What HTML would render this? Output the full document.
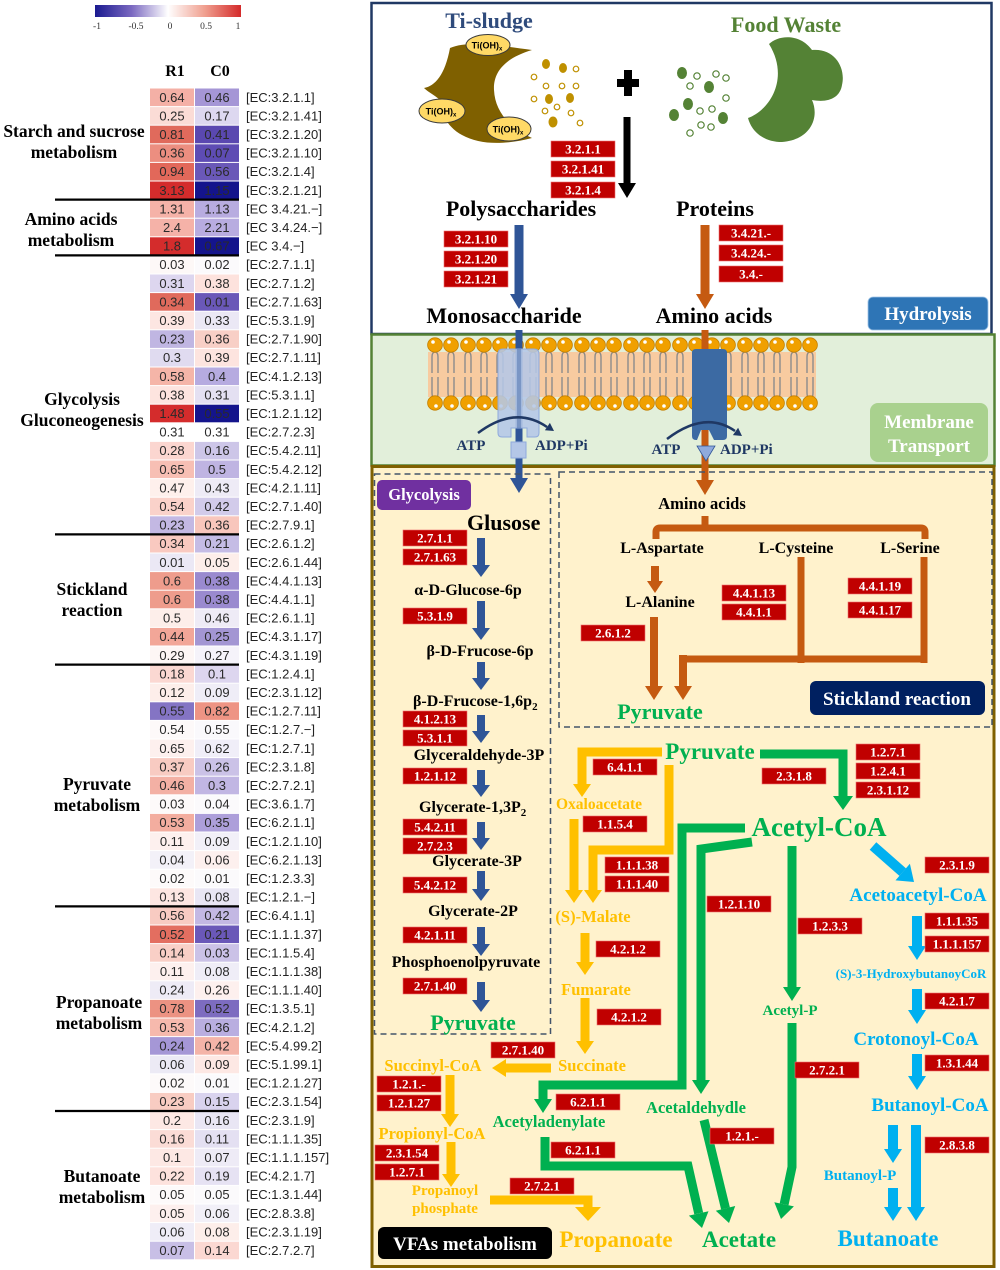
<!DOCTYPE html>
<html><head><meta charset="utf-8">
<style>
html,body{margin:0;padding:0;background:#fff;}
svg{display:block;}
.n{font-family:"Liberation Sans",sans-serif;font-size:13px;fill:#2a2a2a;text-anchor:middle;}
.l{font-family:"Liberation Sans",sans-serif;font-size:13px;fill:#222;}
.g{font-family:"Liberation Serif",serif;font-weight:bold;font-size:17.5px;fill:#000;text-anchor:middle;}
.s{font-family:"Liberation Serif",serif;font-weight:bold;}
.ec{fill:#c00000;stroke:#f07070;stroke-width:.6;}
.et{font-family:"Liberation Serif",serif;font-weight:bold;font-size:13px;fill:#fff;text-anchor:middle;}
.m{text-anchor:middle;}
</style></head><body>
<svg width="1000" height="1270" viewBox="0 0 1000 1270" xmlns="http://www.w3.org/2000/svg">
<defs>
<linearGradient id="cb" x1="0" x2="1" y1="0" y2="0">
<stop offset="0" stop-color="#1a1a90"/><stop offset="0.25" stop-color="#7a68c0"/><stop offset="0.5" stop-color="#ffffff"/><stop offset="0.75" stop-color="#f0a090"/><stop offset="1" stop-color="#d42a2a"/>
</linearGradient>
<g id="lp">
<path d="M-3,373V357Q-3,352 0,352Q3,352 3,357V373M-3,377V393Q-3,398 0,398Q3,398 3,393V377" stroke="#8c8c8c" stroke-width="1.4" fill="none"/>
<ellipse cx="0" cy="345" rx="7.4" ry="7.2" fill="#f0a000" stroke="#c47f00" stroke-width=".8"/>
<circle cx="-2" cy="342" r="1.8" fill="#fff"/>
<ellipse cx="0" cy="403" rx="7.4" ry="7.2" fill="#f0a000" stroke="#c47f00" stroke-width=".8"/>
<circle cx="1" cy="406" r="1.8" fill="#fff"/>
</g>
</defs>

<!-- ===== Colorbar ===== -->
<rect x="95" y="5" width="146" height="12" fill="url(#cb)"/>
<g font-family="Liberation Serif,serif" font-size="9.5" fill="#333" text-anchor="middle">
<text x="97" y="29">-1</text><text x="136" y="29">-0.5</text><text x="170" y="29">0</text><text x="206" y="29">0.5</text><text x="238" y="29">1</text>
</g>
<text class="s" x="175" y="76" font-size="16" text-anchor="middle">R1</text>
<text class="s" x="220" y="76" font-size="16" text-anchor="middle">C0</text>

<!-- ===== Heatmap cells ===== -->
<g>
<rect x="150" y="88.5" width="44" height="17.6" fill="#f4b0a6"/><rect x="195" y="88.5" width="44" height="17.6" fill="#a596d6"/>
<rect x="150" y="107.1" width="44" height="17.6" fill="#fbdcd6"/><rect x="195" y="107.1" width="44" height="17.6" fill="#ddd8f0"/>
<rect x="150" y="125.7" width="44" height="17.6" fill="#e06a5c"/><rect x="195" y="125.7" width="44" height="17.6" fill="#5a48b0"/>
<rect x="150" y="144.3" width="44" height="17.6" fill="#ec8e80"/><rect x="195" y="144.3" width="44" height="17.6" fill="#5e4cb4"/>
<rect x="150" y="162.9" width="44" height="17.6" fill="#e2685a"/><rect x="195" y="162.9" width="44" height="17.6" fill="#6a58b8"/>
<rect x="150" y="181.5" width="44" height="17.6" fill="#d42c2c"/><rect x="195" y="181.5" width="44" height="17.6" fill="#14148c"/>
<rect x="150" y="200.1" width="44" height="17.6" fill="#f5b2a8"/><rect x="195" y="200.1" width="44" height="17.6" fill="#b8ace0"/>
<rect x="150" y="218.7" width="44" height="17.6" fill="#f5b2a8"/><rect x="195" y="218.7" width="44" height="17.6" fill="#b8ace0"/>
<rect x="150" y="237.3" width="44" height="17.6" fill="#d42c2c"/><rect x="195" y="237.3" width="44" height="17.6" fill="#14148c"/>
<rect x="150" y="255.9" width="44" height="17.6" fill="#fdf8f7"/><rect x="195" y="255.9" width="44" height="17.6" fill="#fbfafc"/>
<rect x="150" y="274.5" width="44" height="17.6" fill="#ddd6ef"/><rect x="195" y="274.5" width="44" height="17.6" fill="#fde2dd"/>
<rect x="150" y="293.1" width="44" height="17.6" fill="#e06a5c"/><rect x="195" y="293.1" width="44" height="17.6" fill="#6a58b8"/>
<rect x="150" y="311.7" width="44" height="17.6" fill="#fde6e2"/><rect x="195" y="311.7" width="44" height="17.6" fill="#ebe8f5"/>
<rect x="150" y="330.3" width="44" height="17.6" fill="#c0b6e2"/><rect x="195" y="330.3" width="44" height="17.6" fill="#f8cfc6"/>
<rect x="150" y="348.9" width="44" height="17.6" fill="#e0dbf0"/><rect x="195" y="348.9" width="44" height="17.6" fill="#fde4df"/>
<rect x="150" y="367.5" width="44" height="17.6" fill="#f5b5a8"/><rect x="195" y="367.5" width="44" height="17.6" fill="#b6abe0"/>
<rect x="150" y="386.1" width="44" height="17.6" fill="#fde4df"/><rect x="195" y="386.1" width="44" height="17.6" fill="#e4e0f2"/>
<rect x="150" y="404.7" width="44" height="17.6" fill="#d42c2c"/><rect x="195" y="404.7" width="44" height="17.6" fill="#14148c"/>
<rect x="150" y="423.3" width="44" height="17.6" fill="#ffffff"/><rect x="195" y="423.3" width="44" height="17.6" fill="#ffffff"/>
<rect x="150" y="441.9" width="44" height="17.6" fill="#fbd6d0"/><rect x="195" y="441.9" width="44" height="17.6" fill="#cdc6e8"/>
<rect x="150" y="460.5" width="44" height="17.6" fill="#f7bfb4"/><rect x="195" y="460.5" width="44" height="17.6" fill="#bfb4e2"/>
<rect x="150" y="479.1" width="44" height="17.6" fill="#fef0ec"/><rect x="195" y="479.1" width="44" height="17.6" fill="#eeebf6"/>
<rect x="150" y="497.7" width="44" height="17.6" fill="#fad2ca"/><rect x="195" y="497.7" width="44" height="17.6" fill="#d2cbea"/>
<rect x="150" y="516.3" width="44" height="17.6" fill="#c3b8e3"/><rect x="195" y="516.3" width="44" height="17.6" fill="#f8c6bc"/>
<rect x="150" y="534.9" width="44" height="17.6" fill="#f9c9c0"/><rect x="195" y="534.9" width="44" height="17.6" fill="#c5bce5"/>
<rect x="150" y="553.5" width="44" height="17.6" fill="#ebe8f5"/><rect x="195" y="553.5" width="44" height="17.6" fill="#fdeeea"/>
<rect x="150" y="572.1" width="44" height="17.6" fill="#ee9c8c"/><rect x="195" y="572.1" width="44" height="17.6" fill="#9a8acf"/>
<rect x="150" y="590.7" width="44" height="17.6" fill="#ee9c8c"/><rect x="195" y="590.7" width="44" height="17.6" fill="#9a8acf"/>
<rect x="150" y="609.3" width="44" height="17.6" fill="#fdeeea"/><rect x="195" y="609.3" width="44" height="17.6" fill="#eeebf6"/>
<rect x="150" y="627.9" width="44" height="17.6" fill="#f2a698"/><rect x="195" y="627.9" width="44" height="17.6" fill="#a396d3"/>
<rect x="150" y="646.5" width="44" height="17.6" fill="#fdf6f5"/><rect x="195" y="646.5" width="44" height="17.6" fill="#f5f3fa"/>
<rect x="150" y="665.1" width="44" height="17.6" fill="#fbd8d2"/><rect x="195" y="665.1" width="44" height="17.6" fill="#ddd6ef"/>
<rect x="150" y="683.7" width="44" height="17.6" fill="#fdeeea"/><rect x="195" y="683.7" width="44" height="17.6" fill="#efedf7"/>
<rect x="150" y="702.3" width="44" height="17.6" fill="#8474c4"/><rect x="195" y="702.3" width="44" height="17.6" fill="#ee9484"/>
<rect x="150" y="720.9" width="44" height="17.6" fill="#fdf9f9"/><rect x="195" y="720.9" width="44" height="17.6" fill="#faf9fc"/>
<rect x="150" y="739.5" width="44" height="17.6" fill="#fdf0ee"/><rect x="195" y="739.5" width="44" height="17.6" fill="#f0eef8"/>
<rect x="150" y="758.1" width="44" height="17.6" fill="#f8cbc2"/><rect x="195" y="758.1" width="44" height="17.6" fill="#cbc2e7"/>
<rect x="150" y="776.7" width="44" height="17.6" fill="#f3b0a4"/><rect x="195" y="776.7" width="44" height="17.6" fill="#c1b6e3"/>
<rect x="150" y="795.3" width="44" height="17.6" fill="#fdfafa"/><rect x="195" y="795.3" width="44" height="17.6" fill="#fbfafc"/>
<rect x="150" y="813.9" width="44" height="17.6" fill="#f3ad9f"/><rect x="195" y="813.9" width="44" height="17.6" fill="#ad9fda"/>
<rect x="150" y="832.5" width="44" height="17.6" fill="#fdf0ee"/><rect x="195" y="832.5" width="44" height="17.6" fill="#f2f0f8"/>
<rect x="150" y="851.1" width="44" height="17.6" fill="#f3f1f8"/><rect x="195" y="851.1" width="44" height="17.6" fill="#fdf0ee"/>
<rect x="150" y="869.7" width="44" height="17.6" fill="#fdfafa"/><rect x="195" y="869.7" width="44" height="17.6" fill="#fbfafc"/>
<rect x="150" y="888.3" width="44" height="17.6" fill="#fde6e2"/><rect x="195" y="888.3" width="44" height="17.6" fill="#e9e6f4"/>
<rect x="150" y="906.9" width="44" height="17.6" fill="#f8cbc2"/><rect x="195" y="906.9" width="44" height="17.6" fill="#c3b8e3"/>
<rect x="150" y="925.5" width="44" height="17.6" fill="#e36e60"/><rect x="195" y="925.5" width="44" height="17.6" fill="#6a58b8"/>
<rect x="150" y="944.1" width="44" height="17.6" fill="#f9cfc6"/><rect x="195" y="944.1" width="44" height="17.6" fill="#cbc2e7"/>
<rect x="150" y="962.7" width="44" height="17.6" fill="#fdf0ee"/><rect x="195" y="962.7" width="44" height="17.6" fill="#efedf7"/>
<rect x="150" y="981.3" width="44" height="17.6" fill="#eeebf6"/><rect x="195" y="981.3" width="44" height="17.6" fill="#fdf0ee"/>
<rect x="150" y="999.9" width="44" height="17.6" fill="#ec9282"/><rect x="195" y="999.9" width="44" height="17.6" fill="#7d6cc0"/>
<rect x="150" y="1018.5" width="44" height="17.6" fill="#f6b9ad"/><rect x="195" y="1018.5" width="44" height="17.6" fill="#b9aee0"/>
<rect x="150" y="1037.1" width="44" height="17.6" fill="#a597d6"/><rect x="195" y="1037.1" width="44" height="17.6" fill="#f4b4a8"/>
<rect x="150" y="1055.7" width="44" height="17.6" fill="#eceaf5"/><rect x="195" y="1055.7" width="44" height="17.6" fill="#fde8e4"/>
<rect x="150" y="1074.3" width="44" height="17.6" fill="#fdfafa"/><rect x="195" y="1074.3" width="44" height="17.6" fill="#fbfafc"/>
<rect x="150" y="1092.9" width="44" height="17.6" fill="#f8ccc2"/><rect x="195" y="1092.9" width="44" height="17.6" fill="#d9d3ee"/>
<rect x="150" y="1111.5" width="44" height="17.6" fill="#fde8e4"/><rect x="195" y="1111.5" width="44" height="17.6" fill="#e9e6f4"/>
<rect x="150" y="1130.1" width="44" height="17.6" fill="#fbdcd6"/><rect x="195" y="1130.1" width="44" height="17.6" fill="#e4e0f2"/>
<rect x="150" y="1148.7" width="44" height="17.6" fill="#fde8e4"/><rect x="195" y="1148.7" width="44" height="17.6" fill="#eeebf6"/>
<rect x="150" y="1167.3" width="44" height="17.6" fill="#fde2dd"/><rect x="195" y="1167.3" width="44" height="17.6" fill="#e6e2f3"/>
<rect x="150" y="1185.9" width="44" height="17.6" fill="#fdfafa"/><rect x="195" y="1185.9" width="44" height="17.6" fill="#fbfafc"/>
<rect x="150" y="1204.5" width="44" height="17.6" fill="#fdf0ee"/><rect x="195" y="1204.5" width="44" height="17.6" fill="#f2f0f8"/>
<rect x="150" y="1223.1" width="44" height="17.6" fill="#efedf7"/><rect x="195" y="1223.1" width="44" height="17.6" fill="#fdeeea"/>
<rect x="150" y="1241.7" width="44" height="17.6" fill="#c8bfe6"/><rect x="195" y="1241.7" width="44" height="17.6" fill="#fbd8d2"/>
</g>

<!-- ===== Heatmap numbers ===== -->
<g class="n">
<text x="172" y="101.8">0.64</text><text x="217" y="101.8">0.46</text>
<text x="172" y="120.4">0.25</text><text x="217" y="120.4">0.17</text>
<text x="172" y="139">0.81</text><text x="217" y="139">0.41</text>
<text x="172" y="157.6">0.36</text><text x="217" y="157.6">0.07</text>
<text x="172" y="176.2">0.94</text><text x="217" y="176.2">0.56</text>
<text x="172" y="194.8">3.13</text><text x="217" y="194.8">1.15</text>
<text x="172" y="213.4">1.31</text><text x="217" y="213.4">1.13</text>
<text x="172" y="232">2.4</text><text x="217" y="232">2.21</text>
<text x="172" y="250.6">1.8</text><text x="217" y="250.6">0.67</text>
<text x="172" y="269.2">0.03</text><text x="217" y="269.2">0.02</text>
<text x="172" y="287.8">0.31</text><text x="217" y="287.8">0.38</text>
<text x="172" y="306.4">0.34</text><text x="217" y="306.4">0.01</text>
<text x="172" y="325">0.39</text><text x="217" y="325">0.33</text>
<text x="172" y="343.6">0.23</text><text x="217" y="343.6">0.36</text>
<text x="172" y="362.2">0.3</text><text x="217" y="362.2">0.39</text>
<text x="172" y="380.8">0.58</text><text x="217" y="380.8">0.4</text>
<text x="172" y="399.4">0.38</text><text x="217" y="399.4">0.31</text>
<text x="172" y="418">1.48</text><text x="217" y="418">0.55</text>
<text x="172" y="436.6">0.31</text><text x="217" y="436.6">0.31</text>
<text x="172" y="455.2">0.28</text><text x="217" y="455.2">0.16</text>
<text x="172" y="473.8">0.65</text><text x="217" y="473.8">0.5</text>
<text x="172" y="492.4">0.47</text><text x="217" y="492.4">0.43</text>
<text x="172" y="511">0.54</text><text x="217" y="511">0.42</text>
<text x="172" y="529.6">0.23</text><text x="217" y="529.6">0.36</text>
<text x="172" y="548.2">0.34</text><text x="217" y="548.2">0.21</text>
<text x="172" y="566.8">0.01</text><text x="217" y="566.8">0.05</text>
<text x="172" y="585.4">0.6</text><text x="217" y="585.4">0.38</text>
<text x="172" y="604">0.6</text><text x="217" y="604">0.38</text>
<text x="172" y="622.6">0.5</text><text x="217" y="622.6">0.46</text>
<text x="172" y="641.2">0.44</text><text x="217" y="641.2">0.25</text>
<text x="172" y="659.8">0.29</text><text x="217" y="659.8">0.27</text>
<text x="172" y="678.4">0.18</text><text x="217" y="678.4">0.1</text>
<text x="172" y="697">0.12</text><text x="217" y="697">0.09</text>
<text x="172" y="715.6">0.55</text><text x="217" y="715.6">0.82</text>
<text x="172" y="734.2">0.54</text><text x="217" y="734.2">0.55</text>
<text x="172" y="752.8">0.65</text><text x="217" y="752.8">0.62</text>
<text x="172" y="771.4">0.37</text><text x="217" y="771.4">0.26</text>
<text x="172" y="790">0.46</text><text x="217" y="790">0.3</text>
<text x="172" y="808.6">0.03</text><text x="217" y="808.6">0.04</text>
<text x="172" y="827.2">0.53</text><text x="217" y="827.2">0.35</text>
<text x="172" y="845.8">0.11</text><text x="217" y="845.8">0.09</text>
<text x="172" y="864.4">0.04</text><text x="217" y="864.4">0.06</text>
<text x="172" y="883">0.02</text><text x="217" y="883">0.01</text>
<text x="172" y="901.6">0.13</text><text x="217" y="901.6">0.08</text>
<text x="172" y="920.2">0.56</text><text x="217" y="920.2">0.42</text>
<text x="172" y="938.8">0.52</text><text x="217" y="938.8">0.21</text>
<text x="172" y="957.4">0.14</text><text x="217" y="957.4">0.03</text>
<text x="172" y="976">0.11</text><text x="217" y="976">0.08</text>
<text x="172" y="994.6">0.24</text><text x="217" y="994.6">0.26</text>
<text x="172" y="1013.2">0.78</text><text x="217" y="1013.2">0.52</text>
<text x="172" y="1031.8">0.53</text><text x="217" y="1031.8">0.36</text>
<text x="172" y="1050.4">0.24</text><text x="217" y="1050.4">0.42</text>
<text x="172" y="1069">0.06</text><text x="217" y="1069">0.09</text>
<text x="172" y="1087.6">0.02</text><text x="217" y="1087.6">0.01</text>
<text x="172" y="1106.2">0.23</text><text x="217" y="1106.2">0.15</text>
<text x="172" y="1124.8">0.2</text><text x="217" y="1124.8">0.16</text>
<text x="172" y="1143.4">0.16</text><text x="217" y="1143.4">0.11</text>
<text x="172" y="1162">0.1</text><text x="217" y="1162">0.07</text>
<text x="172" y="1180.6">0.22</text><text x="217" y="1180.6">0.19</text>
<text x="172" y="1199.2">0.05</text><text x="217" y="1199.2">0.05</text>
<text x="172" y="1217.8">0.05</text><text x="217" y="1217.8">0.06</text>
<text x="172" y="1236.4">0.06</text><text x="217" y="1236.4">0.08</text>
<text x="172" y="1255">0.07</text><text x="217" y="1255">0.14</text>
</g>

<!-- ===== Heatmap row labels ===== -->
<g class="l">
<text x="246" y="101.8">[EC:3.2.1.1]</text>
<text x="246" y="120.4">[EC:3.2.1.41]</text>
<text x="246" y="139">[EC:3.2.1.20]</text>
<text x="246" y="157.6">[EC:3.2.1.10]</text>
<text x="246" y="176.2">[EC:3.2.1.4]</text>
<text x="246" y="194.8">[EC:3.2.1.21]</text>
<text x="246" y="213.4">[EC 3.4.21.−]</text>
<text x="246" y="232">[EC 3.4.24.−]</text>
<text x="246" y="250.6">[EC 3.4.−]</text>
<text x="246" y="269.2">[EC:2.7.1.1]</text>
<text x="246" y="287.8">[EC:2.7.1.2]</text>
<text x="246" y="306.4">[EC:2.7.1.63]</text>
<text x="246" y="325">[EC:5.3.1.9]</text>
<text x="246" y="343.6">[EC:2.7.1.90]</text>
<text x="246" y="362.2">[EC:2.7.1.11]</text>
<text x="246" y="380.8">[EC:4.1.2.13]</text>
<text x="246" y="399.4">[EC:5.3.1.1]</text>
<text x="246" y="418">[EC:1.2.1.12]</text>
<text x="246" y="436.6">[EC:2.7.2.3]</text>
<text x="246" y="455.2">[EC:5.4.2.11]</text>
<text x="246" y="473.8">[EC:5.4.2.12]</text>
<text x="246" y="492.4">[EC:4.2.1.11]</text>
<text x="246" y="511">[EC:2.7.1.40]</text>
<text x="246" y="529.6">[EC:2.7.9.1]</text>
<text x="246" y="548.2">[EC:2.6.1.2]</text>
<text x="246" y="566.8">[EC:2.6.1.44]</text>
<text x="246" y="585.4">[EC:4.4.1.13]</text>
<text x="246" y="604">[EC:4.4.1.1]</text>
<text x="246" y="622.6">[EC:2.6.1.1]</text>
<text x="246" y="641.2">[EC:4.3.1.17]</text>
<text x="246" y="659.8">[EC:4.3.1.19]</text>
<text x="246" y="678.4">[EC:1.2.4.1]</text>
<text x="246" y="697">[EC:2.3.1.12]</text>
<text x="246" y="715.6">[EC:1.2.7.11]</text>
<text x="246" y="734.2">[EC:1.2.7.−]</text>
<text x="246" y="752.8">[EC:1.2.7.1]</text>
<text x="246" y="771.4">[EC:2.3.1.8]</text>
<text x="246" y="790">[EC:2.7.2.1]</text>
<text x="246" y="808.6">[EC:3.6.1.7]</text>
<text x="246" y="827.2">[EC:6.2.1.1]</text>
<text x="246" y="845.8">[EC:1.2.1.10]</text>
<text x="246" y="864.4">[EC:6.2.1.13]</text>
<text x="246" y="883">[EC:1.2.3.3]</text>
<text x="246" y="901.6">[EC:1.2.1.−]</text>
<text x="246" y="920.2">[EC:6.4.1.1]</text>
<text x="246" y="938.8">[EC:1.1.1.37]</text>
<text x="246" y="957.4">[EC:1.1.5.4]</text>
<text x="246" y="976">[EC:1.1.1.38]</text>
<text x="246" y="994.6">[EC:1.1.1.40]</text>
<text x="246" y="1013.2">[EC:1.3.5.1]</text>
<text x="246" y="1031.8">[EC:4.2.1.2]</text>
<text x="246" y="1050.4">[EC:5.4.99.2]</text>
<text x="246" y="1069">[EC:5.1.99.1]</text>
<text x="246" y="1087.6">[EC:1.2.1.27]</text>
<text x="246" y="1106.2">[EC:2.3.1.54]</text>
<text x="246" y="1124.8">[EC:2.3.1.9]</text>
<text x="246" y="1143.4">[EC:1.1.1.35]</text>
<text x="246" y="1162">[EC:1.1.1.157]</text>
<text x="246" y="1180.6">[EC:4.2.1.7]</text>
<text x="246" y="1199.2">[EC:1.3.1.44]</text>
<text x="246" y="1217.8">[EC:2.8.3.8]</text>
<text x="246" y="1236.4">[EC:2.3.1.19]</text>
<text x="246" y="1255">[EC:2.7.2.7]</text>
</g>

<!-- separators -->
<g stroke="#000" stroke-width="2.2">
<line x1="55" y1="199.6" x2="239" y2="199.6"/>
<line x1="55" y1="255.4" x2="239" y2="255.4"/>
<line x1="55" y1="534.4" x2="239" y2="534.4"/>
<line x1="55" y1="664.6" x2="239" y2="664.6"/>
<line x1="55" y1="906.4" x2="239" y2="906.4"/>
<line x1="55" y1="1111" x2="239" y2="1111"/>
</g>

<!-- group labels -->
<g class="g">
<text x="74" y="137">Starch and sucrose</text><text x="74" y="158">metabolism</text>
<text x="71" y="225">Amino acids</text><text x="71" y="246">metabolism</text>
<text x="82" y="405">Glycolysis</text><text x="82" y="426">Gluconeogenesis</text>
<text x="92" y="595">Stickland</text><text x="92" y="616">reaction</text>
<text x="97" y="790">Pyruvate</text><text x="97" y="811">metabolism</text>
<text x="99" y="1008">Propanoate</text><text x="99" y="1029">metabolism</text>
<text x="102" y="1182">Butanoate</text><text x="102" y="1203">metabolism</text>
</g>

<!-- ===== Right panels ===== -->
<rect x="371.5" y="3" width="620" height="331" fill="#fff" stroke="#203864" stroke-width="2.5"/>
<rect x="371.5" y="334.5" width="623" height="131" fill="#e2efda" stroke="#548235" stroke-width="2.5"/>
<rect x="372" y="466.5" width="622" height="800" fill="#fff2cc" stroke="#7f6000" stroke-width="3"/>

<!-- Top panel -->
<text class="s m" x="489" y="28" font-size="22" fill="#2f4b7c">Ti-sludge</text>
<text class="s m" x="786" y="32" font-size="22" fill="#548235">Food Waste</text>
<path d="M450,48 C470,40 500,46 532,50 C505,58 493,72 494,90 C495,112 510,128 532,138 C505,145 480,145 462,135 C448,128 438,110 440,100 C433,94 428,92 424,88 C435,86 445,75 450,48 Z" fill="#7f6000"/>
<g stroke="#3a3a3a" stroke-width="1" fill="#ffd966">
<ellipse cx="488" cy="45" rx="22" ry="10.5"/>
<ellipse cx="442" cy="111" rx="23" ry="12"/>
<ellipse cx="509" cy="129" rx="22" ry="12"/>
</g>
<g font-family="Liberation Sans,sans-serif" font-weight="bold" font-size="9" fill="#000" text-anchor="middle">
<text x="487" y="48.5">Ti(OH)<tspan font-size="6" dy="2">x</tspan></text>
<text x="441" y="114.5">Ti(OH)<tspan font-size="6" dy="2">x</tspan></text>
<text x="508" y="132.5">Ti(OH)<tspan font-size="6" dy="2">x</tspan></text>
</g>
<g fill="#bf9000">
<ellipse cx="546" cy="64" rx="4" ry="5"/><ellipse cx="563" cy="68" rx="4" ry="5"/><ellipse cx="549" cy="99" rx="4" ry="5"/><ellipse cx="570" cy="98" rx="4" ry="5"/><ellipse cx="553" cy="122" rx="4.5" ry="5.5"/>
</g>
<g fill="none" stroke="#bf9000" stroke-width="1.2">
<circle cx="576" cy="69" r="2.8"/><circle cx="534" cy="77" r="2.8"/><circle cx="546" cy="86" r="2.8"/><circle cx="562" cy="86" r="2.8"/><circle cx="576" cy="86" r="2.8"/><circle cx="534" cy="99" r="2.8"/><circle cx="545" cy="111" r="2.8"/><circle cx="557" cy="107" r="2.8"/><circle cx="571" cy="113" r="2.8"/><circle cx="580" cy="123" r="2.8"/>
</g>
<rect x="624" y="70" width="8" height="26" fill="#000"/><rect x="617" y="79" width="22" height="8" fill="#000"/>
<path d="M623.5,117V183H618L627,198L636,183H630.5V117Z" fill="#000"/>
<g fill="#548235">
<ellipse cx="682" cy="73" rx="5" ry="6"/><ellipse cx="709" cy="87" rx="5" ry="6"/><ellipse cx="688" cy="104" rx="5" ry="6"/><ellipse cx="674" cy="115" rx="5" ry="6"/><ellipse cx="723" cy="118" rx="5" ry="6"/>
</g>
<g fill="none" stroke="#548235" stroke-width="1.2">
<circle cx="697" cy="76" r="3.2"/><circle cx="716" cy="74" r="3.2"/><circle cx="726" cy="78" r="3.2"/><circle cx="690" cy="86" r="3.2"/><circle cx="726" cy="98" r="3.2"/><circle cx="700" cy="111" r="3.2"/><circle cx="712" cy="109" r="3.2"/><circle cx="701" cy="125" r="3.2"/><circle cx="711" cy="127" r="3.2"/><circle cx="690" cy="133" r="3.2"/>
</g>
<path d="M769,44 C778,35 800,33 812,50 C835,48 846,68 842,85 C840,98 828,103 812,100 C820,118 810,140 782,142 C765,142 752,133 748,118 C770,110 790,78 769,44 Z" fill="#548235"/>

<rect class="ec" x="551" y="141" width="64" height="16"/><text class="et" x="583" y="153.5">3.2.1.1</text>
<rect class="ec" x="551" y="161" width="64" height="16"/><text class="et" x="583" y="173.5">3.2.1.41</text>
<rect class="ec" x="551" y="182" width="64" height="16"/><text class="et" x="583" y="194.5">3.2.1.4</text>

<text class="s m" x="521" y="216" font-size="22">Polysaccharides</text>
<text class="s m" x="715" y="216" font-size="22">Proteins</text>

<path d="M514.5,225V294H510L519,309L528,294H523.5V225Z" fill="#2f5597"/>
<rect class="ec" x="444" y="231" width="64" height="16"/><text class="et" x="476" y="243.5">3.2.1.10</text>
<rect class="ec" x="444" y="251" width="64" height="16"/><text class="et" x="476" y="263.5">3.2.1.20</text>
<rect class="ec" x="444" y="271" width="64" height="16"/><text class="et" x="476" y="283.5">3.2.1.21</text>

<path d="M700.5,225V294H696L705,309L714,294H709.5V225Z" fill="#c55a11"/>
<rect class="ec" x="719" y="225" width="64" height="16"/><text class="et" x="751" y="237.5">3.4.21.-</text>
<rect class="ec" x="719" y="245" width="64" height="16"/><text class="et" x="751" y="257.5">3.4.24.-</text>
<rect class="ec" x="719" y="266" width="64" height="16"/><text class="et" x="751" y="278.5">3.4.-</text>

<text class="s m" x="504" y="323" font-size="22">Monosaccharide</text>
<text class="s m" x="714" y="323" font-size="22">Amino acids</text>

<rect x="868" y="297" width="120" height="33" rx="5" fill="#2e75b6" stroke="#9dc3e6" stroke-width=".8"/>
<text class="s m" x="928" y="320" font-size="19" fill="#fff">Hydrolysis</text>

<!-- Membrane panel -->
<rect x="428" y="352" width="388" height="45" fill="#f8cba0"/>
<use href="#lp" x="435"/><use href="#lp" x="451"/><use href="#lp" x="468"/><use href="#lp" x="484"/><use href="#lp" x="500"/><use href="#lp" x="516"/><use href="#lp" x="533"/><use href="#lp" x="549"/><use href="#lp" x="565"/><use href="#lp" x="582"/><use href="#lp" x="598"/><use href="#lp" x="614"/><use href="#lp" x="631"/><use href="#lp" x="647"/><use href="#lp" x="663"/><use href="#lp" x="680"/><use href="#lp" x="696"/><use href="#lp" x="712"/><use href="#lp" x="728"/><use href="#lp" x="745"/><use href="#lp" x="761"/><use href="#lp" x="777"/><use href="#lp" x="794"/><use href="#lp" x="810"/>

<rect x="515.5" y="330" width="7" height="149" fill="#2f5597"/>
<polygon points="510,478 528,478 519,493" fill="#2f5597"/>
<rect x="701.5" y="330" width="7" height="151" fill="#c55a11"/>
<polygon points="696,480 714,480 705,495" fill="#c55a11"/>

<path d="M503,349H534Q539,349 539,354V433Q539,437 535,437H527V428H511V437H502Q498,437 498,433V354Q498,349 503,349Z" fill="#b4c7e7" fill-opacity=".88" stroke="#8faadc" stroke-width="1"/>
<line x1="519" y1="349" x2="519" y2="428" stroke="#2f5597" stroke-width="4" stroke-opacity=".35"/>
<path d="M696,349H723Q727,349 727,353V436Q727,440 723,440H714L709,430H701L697,440H696Q692,440 692,436V353Q692,349 696,349Z" fill="#3c6aa3"/>
<rect x="511" y="442" width="15" height="16" fill="#b4c7e7" stroke="#8faadc" stroke-width="1"/>
<polygon points="697,446 715,446 706,461" fill="#8faadc" stroke="#2f5597" stroke-width=".8"/>

<g fill="none" stroke="#1f3864" stroke-width="2.5">
<path d="M478,433 Q515,405 547,427"/>
<path d="M667,439 Q705,410 735,431"/>
</g>
<polygon points="554,431 544.9,430.3 549.9,422.9" fill="#1f3864"/>
<polygon points="742,436 732.9,435.1 738.1,427.7" fill="#1f3864"/>
<g class="s" font-size="15" fill="#1f3864">
<text x="471" y="450" text-anchor="middle">ATP</text><text x="535" y="450">ADP+Pi</text>
<text x="666" y="454" text-anchor="middle">ATP</text><text x="720" y="454">ADP+Pi</text>
</g>
<rect x="870" y="403" width="118" height="59" rx="8" fill="#a9d18e"/>
<text class="s m" x="929" y="428" font-size="19" fill="#fff">Membrane</text>
<text class="s m" x="929" y="452" font-size="19" fill="#fff">Transport</text>

<!-- Bottom panel: dashed boxes -->
<rect x="374.5" y="474" width="176" height="560" fill="none" stroke="#44546a" stroke-width="1.5" stroke-dasharray="6,4"/>
<rect x="559" y="472" width="433" height="255" fill="none" stroke="#44546a" stroke-width="1.5" stroke-dasharray="6,4"/>

<!-- Glycolysis column -->
<rect x="377" y="480" width="94" height="30" rx="5" fill="#7030a0"/>
<text class="s m" x="424" y="500" font-size="16.5" fill="#fff">Glycolysis</text>
<text class="s" x="467" y="530" font-size="22">Glusose</text>
<g class="s m" font-size="16">
<text x="468" y="595">α-D-Glucose-6p</text>
<text x="480" y="656">β-D-Frucose-6p</text>
<text x="479" y="760">Glyceraldehyde-3P</text>
<text x="477" y="866">Glycerate-3P</text>
<text x="473" y="916">Glycerate-2P</text>
<text x="466" y="967">Phosphoenolpyruvate</text>
</g>
<text class="s" x="413" y="706" font-size="16">β-D-Frucose-1,6p<tspan font-size="11" dy="4">2</tspan></text>
<text class="s" x="419" y="812" font-size="16">Glycerate-1,3P<tspan font-size="11" dy="4">2</tspan></text>
<text class="s m" x="473" y="1030" font-size="22" fill="#00b050">Pyruvate</text>
<g fill="#2f5597">
<path d="M477,538V565H472L481,577L490,565H485V538Z"/>
<path d="M477,601V628H472L481,640L490,628H485V601Z"/>
<path d="M477,662V678H472L481,690L490,678H485V662Z"/>
<path d="M477,715V731H472L481,743L490,731H485V715Z"/>
<path d="M477,770V785H472L481,797L490,785H485V770Z"/>
<path d="M477,822V838H472L481,850L490,838H485V822Z"/>
<path d="M477,871V889H472L481,901L490,889H485V871Z"/>
<path d="M477,927V944H472L481,956L490,944H485V927Z"/>
<path d="M477,982V1000H472L481,1012L490,1000H485V982Z"/>
</g>
<rect class="ec" x="403" y="530" width="64" height="16"/><text class="et" x="435" y="542.5">2.7.1.1</text>
<rect class="ec" x="403" y="549" width="64" height="16"/><text class="et" x="435" y="561.5">2.7.1.63</text>
<rect class="ec" x="403" y="608" width="64" height="16"/><text class="et" x="435" y="620.5">5.3.1.9</text>
<rect class="ec" x="403" y="711" width="64" height="16"/><text class="et" x="435" y="723.5">4.1.2.13</text>
<rect class="ec" x="403" y="730" width="64" height="16"/><text class="et" x="435" y="742.5">5.3.1.1</text>
<rect class="ec" x="403" y="768" width="64" height="16"/><text class="et" x="435" y="780.5">1.2.1.12</text>
<rect class="ec" x="403" y="819" width="64" height="16"/><text class="et" x="435" y="831.5">5.4.2.11</text>
<rect class="ec" x="403" y="838" width="64" height="16"/><text class="et" x="435" y="850.5">2.7.2.3</text>
<rect class="ec" x="403" y="877" width="64" height="16"/><text class="et" x="435" y="889.5">5.4.2.12</text>
<rect class="ec" x="403" y="927" width="64" height="16"/><text class="et" x="435" y="939.5">4.2.1.11</text>
<rect class="ec" x="403" y="978" width="64" height="16"/><text class="et" x="435" y="990.5">2.7.1.40</text>

<!-- Stickland -->
<g fill="none" stroke="#c55a11" stroke-width="7">
<line x1="705" y1="516" x2="705" y2="528"/>
<path d="M656,539V532Q656,528 660,528H921Q925,528 925,532V539"/>
<line x1="801" y1="557" x2="801" y2="663"/>
<line x1="924" y1="557" x2="924" y2="663"/>
<line x1="679" y1="659" x2="927.5" y2="659"/>
</g>
<g fill="#c55a11">
<path d="M651,566V581H647L655,593L663,581H659V566Z"/>
<path d="M650,617V686H645L654,700L663,686H658V617Z"/>
<path d="M679,655V686H674L683,700L692,686H687V655Z"/>
</g>
<g class="s m" font-size="16">
<text x="702" y="509" font-size="16.5">Amino acids</text>
<text x="662" y="553">L-Aspartate</text>
<text x="796" y="553">L-Cysteine</text>
<text x="910" y="553">L-Serine</text>
<text x="660" y="607">L-Alanine</text>
</g>
<rect class="ec" x="722" y="585" width="64" height="16"/><text class="et" x="754" y="597.5">4.4.1.13</text>
<rect class="ec" x="722" y="604" width="64" height="16"/><text class="et" x="754" y="616.5">4.4.1.1</text>
<rect class="ec" x="848" y="578" width="64" height="16"/><text class="et" x="880" y="590.5">4.4.1.19</text>
<rect class="ec" x="848" y="602" width="64" height="16"/><text class="et" x="880" y="614.5">4.4.1.17</text>
<rect class="ec" x="581" y="625" width="64" height="16"/><text class="et" x="613" y="637.5">2.6.1.2</text>
<text class="s m" x="660" y="719" font-size="22" fill="#00b050">Pyruvate</text>
<rect x="810" y="681" width="175" height="34" rx="6" fill="#002060"/>
<text class="s m" x="897" y="705" font-size="19" fill="#fff">Stickland reaction</text>

<!-- VFA: yellow -->
<g fill="none" stroke="#ffc000" stroke-width="9" stroke-linejoin="miter">
<polyline points="662,752 582,752 582,785"/>
<polyline points="669,765 669,850 593,850 593,891"/>
<line x1="574" y1="819" x2="574" y2="891"/>
</g>
<g fill="#ffc000">
<polygon points="573,784 591,784 582,797"/>
<polygon points="584,890 602,890 593,903"/>
<polygon points="565,890 583,890 574,903"/>
<path d="M580.5,933V962H576L585,975L594,962H589.5V933Z"/>
<path d="M580.5,998V1041H576L585,1054L594,1041H589.5V998Z"/>
<path d="M551,1063.5H506V1059L492,1068L506,1077V1072.5H551Z"/>
<path d="M445.5,1075V1114H441L450,1127L459,1114H454.5V1075Z"/>
<path d="M446.5,1142V1174H442L451,1187L460,1174H455.5V1142Z"/>
<path d="M490,1195.5H592.5V1207H601L588,1221L575,1207H583.5V1204.5H490Z"/>
</g>
<g class="s m" fill="#ffc000">
<text x="599" y="809" font-size="15.5">Oxaloacetate</text>
<text x="593" y="922" font-size="16.5">(S)-Malate</text>
<text x="596" y="995" font-size="16.5">Fumarate</text>
<text x="592" y="1071" font-size="16.5">Succinate</text>
<text x="433" y="1071" font-size="16.5">Succinyl-CoA</text>
<text x="432" y="1139" font-size="16.5">Propionyl-CoA</text>
<text x="445" y="1195" font-size="15">Propanoyl</text>
<text x="445" y="1213" font-size="15">phosphate</text>
<text x="616" y="1247" font-size="23">Propanoate</text>
</g>
<rect class="ec" x="593" y="759" width="64" height="16"/><text class="et" x="625" y="771.5">6.4.1.1</text>
<rect class="ec" x="583" y="816" width="64" height="16"/><text class="et" x="615" y="828.5">1.1.5.4</text>
<rect class="ec" x="605" y="857" width="64" height="16"/><text class="et" x="637" y="869.5">1.1.1.38</text>
<rect class="ec" x="605" y="876" width="64" height="16"/><text class="et" x="637" y="888.5">1.1.1.40</text>
<rect class="ec" x="596" y="941" width="64" height="16"/><text class="et" x="628" y="953.5">4.2.1.2</text>
<rect class="ec" x="597" y="1009" width="64" height="16"/><text class="et" x="629" y="1021.5">4.2.1.2</text>
<rect class="ec" x="491" y="1042" width="64" height="16"/><text class="et" x="523" y="1054.5">2.7.1.40</text>
<rect class="ec" x="377" y="1076" width="64" height="16"/><text class="et" x="409" y="1088.5">1.2.1.-</text>
<rect class="ec" x="377" y="1095" width="64" height="16"/><text class="et" x="409" y="1107.5">1.2.1.27</text>
<rect class="ec" x="375" y="1145" width="64" height="16"/><text class="et" x="407" y="1157.5">2.3.1.54</text>
<rect class="ec" x="375" y="1164" width="64" height="16"/><text class="et" x="407" y="1176.5">1.2.7.1</text>
<rect class="ec" x="510" y="1178" width="64" height="16"/><text class="et" x="542" y="1190.5">2.7.2.1</text>

<!-- VFA: green -->
<g fill="none" stroke="#00b050" stroke-width="9" stroke-linejoin="miter">
<polyline points="760,754 843,754 843,797"/>
<polyline points="745,828 682,828 682,1085 543,1085 543,1100"/>
<polyline points="752,842 701,849 701,1081"/>
<polyline points="545,1137 545,1166 688,1166 698.7,1213.4"/>
<line x1="704" y1="1120" x2="725.5" y2="1208.4"/>
<line x1="792" y1="846" x2="792" y2="988"/>
<polyline points="792,1023 792,1167 784.1,1204.3"/>
</g>
<g fill="#00b050">
<polygon points="833,796 853,796 843,810"/>
<polygon points="534,1099 552,1099 543,1113"/>
<polygon points="692,1080 710,1080 701,1094"/>
<polygon points="708.5,1211.2 688.9,1215.6 702,1228"/>
<polygon points="735.2,1206 715.8,1210.8 729,1223"/>
<polygon points="783,987 801,987 792,1001"/>
<polygon points="793.9,1206.4 774.3,1202.2 781,1219"/>
</g>
<g class="s m" fill="#00b050">
<text x="710" y="759" font-size="23">Pyruvate</text>
<text x="819" y="836" font-size="27">Acetyl-CoA</text>
<text x="549" y="1127" font-size="16.5">Acetyladenylate</text>
<text x="696" y="1113" font-size="16.5">Acetaldehydle</text>
<text x="790" y="1015" font-size="15">Acetyl-P</text>
<text x="739" y="1247" font-size="23">Acetate</text>
</g>
<rect class="ec" x="762" y="768" width="64" height="16"/><text class="et" x="794" y="780.5">2.3.1.8</text>
<rect class="ec" x="856" y="744" width="64" height="16"/><text class="et" x="888" y="756.5">1.2.7.1</text>
<rect class="ec" x="856" y="763" width="64" height="16"/><text class="et" x="888" y="775.5">1.2.4.1</text>
<rect class="ec" x="856" y="782" width="64" height="16"/><text class="et" x="888" y="794.5">2.3.1.12</text>
<rect class="ec" x="707" y="896" width="64" height="16"/><text class="et" x="739" y="908.5">1.2.1.10</text>
<rect class="ec" x="556" y="1094" width="64" height="16"/><text class="et" x="588" y="1106.5">6.2.1.1</text>
<rect class="ec" x="551" y="1142" width="64" height="16"/><text class="et" x="583" y="1154.5">6.2.1.1</text>
<rect class="ec" x="710" y="1128" width="64" height="16"/><text class="et" x="742" y="1140.5">1.2.1.-</text>
<rect class="ec" x="798" y="918" width="64" height="16"/><text class="et" x="830" y="930.5">1.2.3.3</text>
<rect class="ec" x="795" y="1062" width="64" height="16"/><text class="et" x="827" y="1074.5">2.7.2.1</text>

<!-- VFA: light blue -->
<line x1="873" y1="846" x2="902.7" y2="872.1" stroke="#00b0f0" stroke-width="10"/>
<g fill="#00b0f0">
<polygon points="909.9,863.8 895.5,880.4 914,882"/>
<path d="M912,916V946H908L917,960L926,946H922V916Z"/>
<path d="M912,989V1010H908L917,1024L926,1010H922V989Z"/>
<path d="M912,1054V1076H908L917,1090L926,1076H922V1054Z"/>
<path d="M888,1125V1149H884L893,1163L902,1149H898V1125Z"/>
<path d="M911,1125V1207H907L916,1221L925,1207H921V1125Z"/>
<path d="M888,1188V1207H884L893,1221L902,1207H898V1188Z"/>
</g>
<g class="s m" fill="#00b0f0">
<text x="918" y="901" font-size="19">Acetoacetyl-CoA</text>
<text x="911" y="978" font-size="13">(S)-3-HydroxybutanoyCoR</text>
<text x="916" y="1045" font-size="19">Crotonoyl-CoA</text>
<text x="930" y="1111" font-size="19">Butanoyl-CoA</text>
<text x="860" y="1180" font-size="15">Butanoyl-P</text>
<text x="888" y="1246" font-size="23">Butanoate</text>
</g>
<rect class="ec" x="925" y="857" width="64" height="16"/><text class="et" x="957" y="869.5">2.3.1.9</text>
<rect class="ec" x="925" y="913" width="64" height="16"/><text class="et" x="957" y="925.5">1.1.1.35</text>
<rect class="ec" x="925" y="936" width="64" height="16"/><text class="et" x="957" y="948.5">1.1.1.157</text>
<rect class="ec" x="925" y="993" width="64" height="16"/><text class="et" x="957" y="1005.5">4.2.1.7</text>
<rect class="ec" x="925" y="1055" width="64" height="16"/><text class="et" x="957" y="1067.5">1.3.1.44</text>
<rect class="ec" x="925" y="1137" width="64" height="16"/><text class="et" x="957" y="1149.5">2.8.3.8</text>

<rect x="378" y="1227" width="174" height="32" rx="6" fill="#000"/>
<text class="s m" x="465" y="1250" font-size="19" fill="#fff">VFAs metabolism</text>
</svg>
</body></html>
